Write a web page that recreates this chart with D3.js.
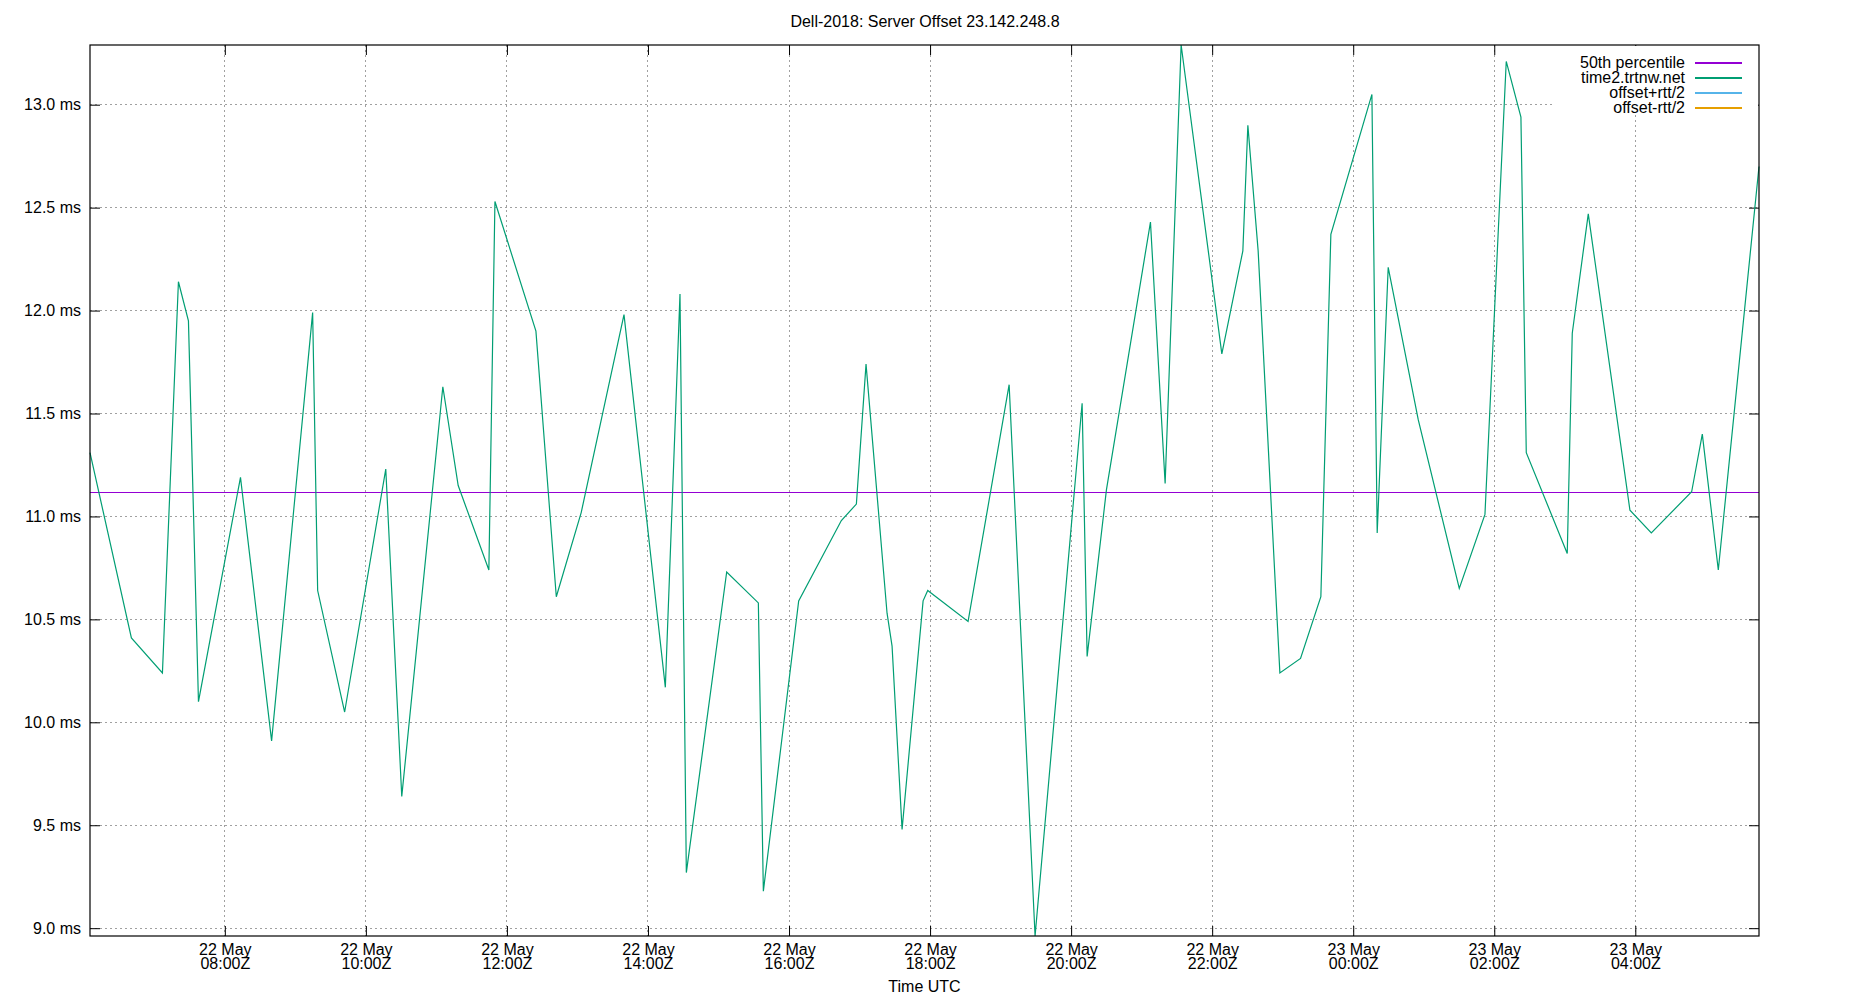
<!DOCTYPE html>
<html>
<head>
<meta charset="utf-8">
<script src="https://cdn.jsdelivr.net/npm/d3@7"></script>
<style>
  body { margin: 0; background: #fff; }
  text { font-family: "Liberation Sans", Arial, sans-serif; fill: #000; }
</style>
</head>
<body>
<div id="chart"></div>
<script>
// sample times (UTC) and offsets in ms
const sampleTimes = [
  "2018-05-22T06:05:17", "2018-05-22T06:40:30", "2018-05-22T07:06:54", "2018-05-22T07:20:31",
  "2018-05-22T07:29:02", "2018-05-22T07:37:34", "2018-05-22T08:13:19", "2018-05-22T08:39:47",
  "2018-05-22T09:14:42", "2018-05-22T09:18:58", "2018-05-22T09:41:56", "2018-05-22T10:16:55",
  "2018-05-22T10:30:32", "2018-05-22T11:05:28", "2018-05-22T11:18:32", "2018-05-22T11:44:38",
  "2018-05-22T11:49:48", "2018-05-22T12:24:40", "2018-05-22T12:42:00", "2018-05-22T13:03:14",
  "2018-05-22T13:39:36", "2018-05-22T14:14:46", "2018-05-22T14:27:14", "2018-05-22T14:32:38",
  "2018-05-22T15:06:58", "2018-05-22T15:33:54", "2018-05-22T15:38:10", "2018-05-22T16:08:13",
  "2018-05-22T16:44:31", "2018-05-22T16:57:18", "2018-05-22T17:05:31", "2018-05-22T17:23:24",
  "2018-05-22T17:27:40", "2018-05-22T17:36:11", "2018-05-22T17:54:04", "2018-05-22T17:58:01",
  "2018-05-22T18:32:20", "2018-05-22T19:07:16", "2018-05-22T19:29:20", "2018-05-22T20:09:22",
  "2018-05-22T20:13:37", "2018-05-22T20:30:04", "2018-05-22T21:07:30", "2018-05-22T21:19:59",
  "2018-05-22T21:33:36", "2018-05-22T22:08:13", "2018-05-22T22:26:06", "2018-05-22T22:30:22",
  "2018-05-22T22:39:07", "2018-05-22T22:57:36", "2018-05-22T23:15:11", "2018-05-22T23:32:28",
  "2018-05-22T23:40:59", "2018-05-23T00:15:54", "2018-05-23T00:20:24", "2018-05-23T00:29:46",
  "2018-05-23T00:55:19", "2018-05-23T01:30:14", "2018-05-23T01:52:05", "2018-05-23T02:10:12",
  "2018-05-23T02:22:41", "2018-05-23T02:27:14", "2018-05-23T03:02:06", "2018-05-23T03:06:22",
  "2018-05-23T03:19:59", "2018-05-23T03:55:26", "2018-05-23T04:13:37", "2018-05-23T04:47:56",
  "2018-05-23T04:57:00", "2018-05-23T05:10:37", "2018-05-23T05:45:14"
];
const offsetMs = [
  11.31, 10.41, 10.24, 12.14, 11.95, 10.10, 11.19, 9.91,
  11.99, 10.64, 10.05, 11.23, 9.64, 11.63, 11.15, 10.74,
  12.53, 11.90, 10.61, 11.02, 11.98, 10.17, 12.08, 9.27,
  10.73, 10.58, 9.18, 10.59, 10.98, 11.06, 11.74, 10.53,
  10.37, 9.48, 10.59, 10.64, 10.49, 11.64, 8.962, 11.55,
  10.32, 11.13, 12.43, 11.16, 13.29, 11.79, 12.29, 12.90,
  12.29, 10.24, 10.31, 10.61, 12.37, 13.05, 10.92, 12.21,
  11.47, 10.65, 11.01, 13.21, 12.94, 11.31, 10.82, 11.89,
  12.47, 11.03, 10.92, 11.12, 11.40, 10.74, 12.70
];
const percentile50 = 11.117;
const yTicks = [9.0, 9.5, 10.0, 10.5, 11.0, 11.5, 12.0, 12.5, 13.0];
const legendLabels = ["50th percentile", "time2.trtnw.net", "offset+rtt/2", "offset-rtt/2"];
const legendColors = ["#9400d3", "#009e73", "#56b4e9", "#e69f00"];

const titleText = "Dell-2018: Server Offset 23.142.248.8";
const xLabelText = "Time UTC";

const size = {width: 1850, height: 1000};
const margin = {top: 45, right: 91, bottom: 64, left: 90};
const width = size.width - margin.left - margin.right;
const height = size.height - margin.top - margin.bottom;
const fontSize = 16;
const tickLen = 10;

const points = sampleTimes.map((t, i) => ({time: new Date(t + "Z"), value: offsetMs[i]}));

const x = d3.scaleUtc()
    .domain(d3.extent(points, d => d.time))
    .range([0, width]);
const y = d3.scaleLinear()
    .domain(d3.extent(points, d => d.value))
    .range([height, 0]);

const xTicks = x.ticks(d3.utcHour.every(2));
const fmtDay = d3.utcFormat("%d %b");
const fmtHour = d3.utcFormat("%H:%MZ");

const svg = d3.select("#chart").append("svg")
    .attr("width", size.width)
    .attr("height", size.height);

svg.append("text")
    .attr("x", size.width / 2)
    .attr("y", 27)
    .attr("text-anchor", "middle")
    .style("font-size", fontSize + "px")
    .text(titleText);

const g = svg.append("g")
    .attr("transform", "translate(" + margin.left + "," + margin.top + ")");

// grid
g.append("g").attr("class", "grid")
    .selectAll("line.hgrid")
    .data(yTicks)
    .join("line")
    .attr("x1", 0).attr("x2", width)
    .attr("y1", d => y(d)).attr("y2", d => y(d))
    .attr("stroke", "#a0a0a0")
    .attr("stroke-dasharray", "2,3")
    .attr("shape-rendering", "crispEdges");
g.append("g").attr("class", "grid")
    .selectAll("line.vgrid")
    .data(xTicks)
    .join("line")
    .attr("x1", d => x(d)).attr("x2", d => x(d))
    .attr("y1", 0).attr("y2", height)
    .attr("stroke", "#a0a0a0")
    .attr("stroke-dasharray", "2,3")
    .attr("shape-rendering", "crispEdges");

// axes, ticks pointing inwards and mirrored like gnuplot
const yLeft = d3.axisLeft(y).tickValues(yTicks).tickSizeInner(-tickLen).tickSizeOuter(0)
    .tickPadding(9).tickFormat(d => d3.format(".1f")(d) + " ms");
const yRight = d3.axisRight(y).tickValues(yTicks).tickSizeInner(-tickLen).tickSizeOuter(0).tickFormat("");
const xBottom = d3.axisBottom(x).tickValues(xTicks).tickSizeInner(-tickLen).tickSizeOuter(0).tickFormat("");
const xTop = d3.axisTop(x).tickValues(xTicks).tickSizeInner(-tickLen).tickSizeOuter(0).tickFormat("");

g.append("g").call(yLeft)
    .call(a => a.selectAll("text").style("font-size", fontSize + "px").attr("fill", "#000"));
g.append("g").attr("transform", "translate(" + width + ",0)").call(yRight);
const xAxisG = g.append("g").attr("transform", "translate(0," + height + ")").call(xBottom);
g.append("g").call(xTop);
g.selectAll(".domain").remove();
g.selectAll(".tick line").attr("stroke", "#000");

// two-line time labels
const xLab = xAxisG.selectAll(".tick").append("text")
    .attr("text-anchor", "middle")
    .style("font-size", fontSize + "px");
xLab.append("tspan").attr("x", 0).attr("y", 19).text(d => fmtDay(d));
xLab.append("tspan").attr("x", 0).attr("y", 33).text(d => fmtHour(d));

svg.append("text")
    .attr("x", margin.left + width / 2)
    .attr("y", 992)
    .attr("text-anchor", "middle")
    .style("font-size", fontSize + "px")
    .text(xLabelText);

// median line
g.append("line")
    .attr("x1", 0).attr("x2", width)
    .attr("y1", y(percentile50)).attr("y2", y(percentile50))
    .attr("stroke", legendColors[0])
    .attr("stroke-width", 1)
    .attr("shape-rendering", "crispEdges");

// offset series
const line = d3.line().x(d => x(d.time)).y(d => y(d.value));
g.append("path")
    .datum(points)
    .attr("fill", "none")
    .attr("stroke", legendColors[1])
    .attr("stroke-width", 1.2)
    .attr("d", line);

// legend with opaque background
const legendG = g.append("g").attr("transform", "translate(" + (width - 207) + ",0)");
legendG.append("rect")
    .attr("x", 0).attr("y", 1)
    .attr("width", 206).attr("height", 67)
    .attr("fill", "#fff");
const legendRow = legendG.selectAll(".legendRow")
    .data(legendLabels)
    .join("g")
    .attr("class", "legendRow")
    .attr("transform", (d, i) => "translate(0," + (18 + i * 15) + ")");
legendRow.append("text")
    .attr("x", 133)
    .attr("y", -1)
    .attr("dy", "0.35em")
    .attr("text-anchor", "end")
    .style("font-size", fontSize + "px")
    .text(d => d);
legendRow.append("line")
    .attr("x1", 143).attr("x2", 190)
    .attr("stroke", (d, i) => legendColors[i])
    .attr("stroke-width", 1.2)
    .attr("shape-rendering", "crispEdges");

// frame
g.append("rect")
    .attr("width", width).attr("height", height)
    .attr("fill", "none")
    .attr("stroke", "#000")
    .attr("stroke-width", 1.2);
</script>
</body>
</html>
